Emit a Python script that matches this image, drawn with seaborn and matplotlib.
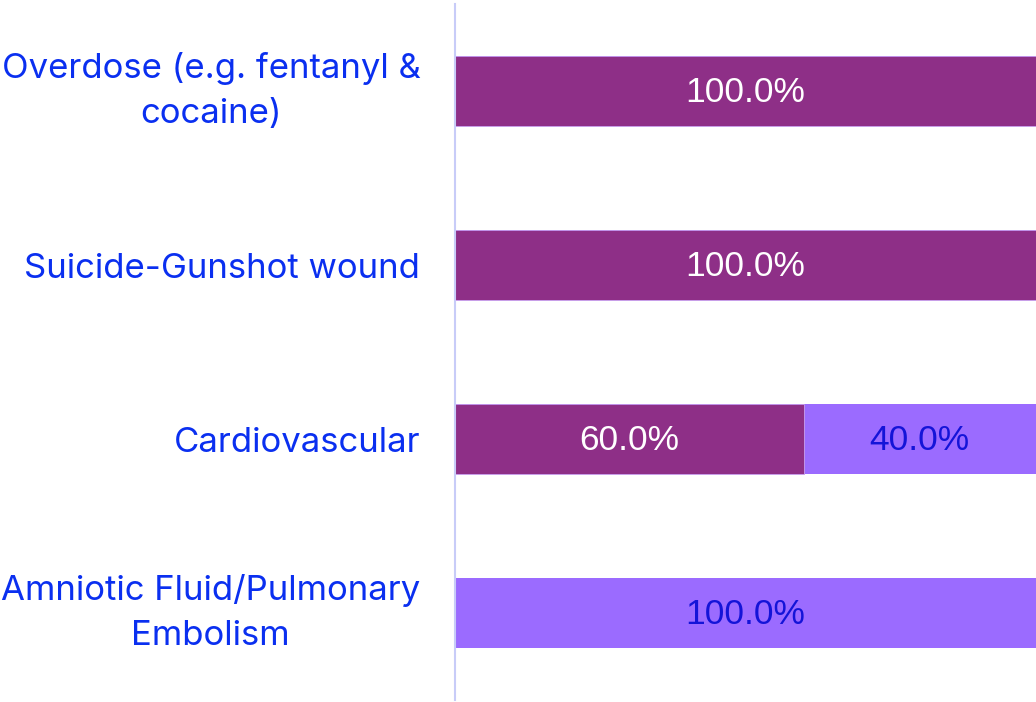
import matplotlib
matplotlib.use("Agg")
import matplotlib.pyplot as plt
import seaborn as sns
import pandas as pd

categories = [
    "Overdose (e.g. fentanyl &\ncocaine)",
    "Suicide-Gunshot wound",
    "Cardiovascular",
    "Amniotic Fluid/Pulmonary\nEmbolism",
]
series_a = [100.0, 100.0, 60.0, 0.0]
series_b = [0.0, 0.0, 40.0, 100.0]

color_a = "#8E2F87"
color_b = "#9B6BFF"
label_color = "#0A2FF0"
text_on_b = "#1414D8"

sns.set_theme(style="white")
plt.rcParams["font.family"] = ["Inter", "DejaVu Sans"]

df = pd.DataFrame({"category": categories, "a": series_a, "b": series_b})
df["total"] = df["a"] + df["b"]

fig = plt.figure(figsize=(10.36, 7.02), dpi=100)
ax = fig.add_axes([455 / 1036, 2 / 702, 581 / 1036, 696 / 702])

sns.barplot(data=df, x="total", y="category", color=color_b, width=0.4,
            saturation=1, ax=ax, orient="h", edgecolor="none")
sns.barplot(data=df, x="a", y="category", color=color_a, width=0.4,
            saturation=1, ax=ax, orient="h", edgecolor="#C9A0F0",
            linewidth=0.6)

for i, row in df.iterrows():
    if row["a"] > 0:
        ax.text(row["a"] / 2, i + 0.01, f"{row['a']:.1f}%", ha="center",
                va="center", color="white", fontsize=25.5,
                family=["Liberation Sans"])
    if row["b"] > 0:
        ax.text(row["a"] + row["b"] / 2, i + 0.01, f"{row['b']:.1f}%",
                ha="center", va="center", color=text_on_b, fontsize=25.5,
                family=["Liberation Sans"])

ax.set_xlim(0, 100)
ax.set_ylim(3.5, -0.5)
ax.set_xlabel("")
ax.set_ylabel("")
ax.set_xticks([])
ax.tick_params(axis="y", length=0, pad=25)
for lbl in ax.get_yticklabels():
    lbl.set_fontsize(25)
    lbl.set_color(label_color)
    lbl.set_multialignment("center")
    lbl.set_linespacing(1.52)
    if "\n" in lbl.get_text():
        lbl.set_verticalalignment("center")

for side in ["top", "right", "bottom"]:
    ax.spines[side].set_visible(False)
ax.spines["left"].set_color("#C8CCF8")
ax.spines["left"].set_linewidth(1.5)

fig.savefig("out.png", dpi=100)
